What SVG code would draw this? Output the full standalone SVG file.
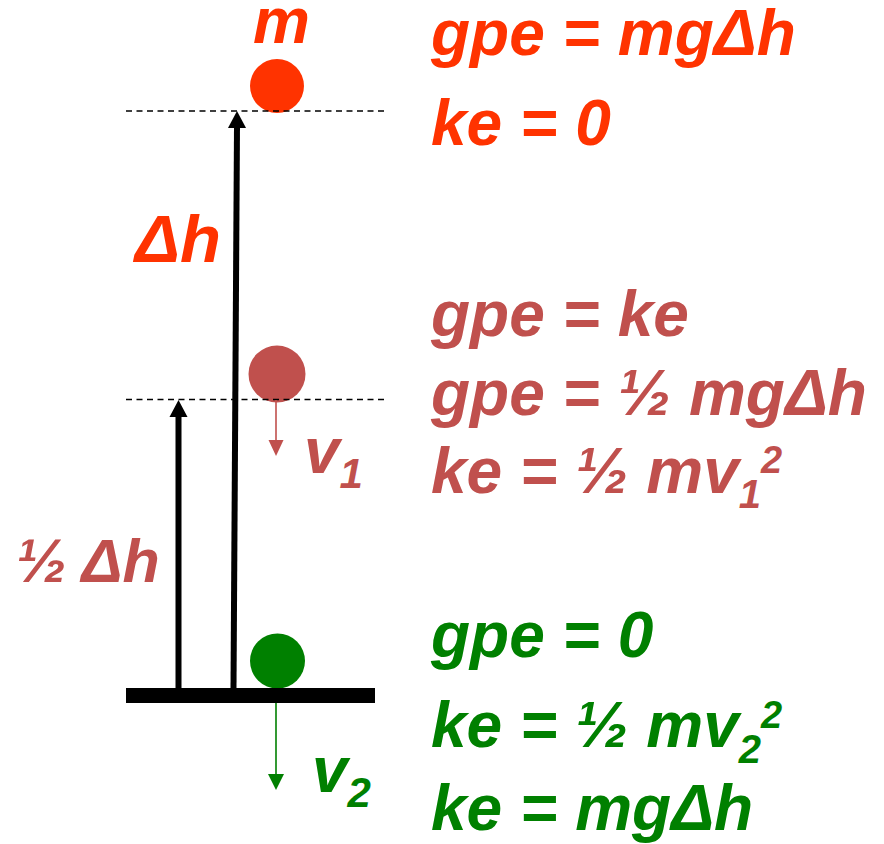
<svg xmlns="http://www.w3.org/2000/svg" width="884" height="844" viewBox="0 0 884 844">
<style>
  text { font-family: "Liberation Sans", Arial, sans-serif; font-weight: bold; font-style: italic; }
  .big { font-size: 64px; }
  .red { fill: #FF3300; }
  .rose { fill: #C0504D; }
  .green { fill: #008000; }
  .dash { stroke: #000; stroke-width: 1.4; stroke-dasharray: 6 4.5; fill: none; }
</style>
<rect width="884" height="844" fill="#fff"/>
<g id="ball-top"><circle cx="277" cy="86" r="27" class="red"/></g>
<g id="ball-mid"><circle cx="277" cy="374" r="28.5" class="rose"/></g>
<g id="ball-bottom"><circle cx="277.5" cy="661" r="27.5" class="green"/></g>
<g id="ground"><rect x="126" y="688" width="249" height="15" fill="#000"/></g>
<g id="connectors">
  <line class="dash" x1="126" y1="111" x2="387" y2="111"/>
  <line class="dash" x1="126" y1="399.5" x2="387" y2="399.5"/>
  <line x1="233.5" y1="688" x2="237" y2="126" stroke="#000" stroke-width="6"/>
  <polygon points="237,111 228,128 246,128" fill="#000"/>
  <line x1="178.5" y1="688" x2="178.5" y2="415" stroke="#000" stroke-width="6"/>
  <polygon points="178.5,400 169.5,417 187.5,417" fill="#000"/>
  <line x1="276" y1="400" x2="276" y2="442" stroke="#C0504D" stroke-width="1.6"/>
  <polygon points="276,456 268.5,440 283.5,440" fill="#C0504D"/>
  <line x1="276" y1="703" x2="276" y2="776" stroke="#008000" stroke-width="1.6"/>
  <polygon points="276,790 268,774 284,774" fill="#008000"/>
</g>
<g id="labels-left">
  <text class="big red" x="253" y="43">m</text>
  <text class="red" x="135" y="262" font-size="67">Δh</text>
  <text class="rose" x="16" y="582" font-size="61">½ Δh</text>
  <text class="big rose" x="304" y="473">v<tspan font-size="42" dy="15">1</tspan></text>
  <text class="big green" x="312" y="792">v<tspan font-size="42" dy="15">2</tspan></text>
</g>
<g id="eq-top">
  <text class="big red" x="431" y="55">gpe = mgΔh</text>
  <text class="big red" x="431" y="145">ke = 0</text>
</g>
<g id="eq-mid">
  <text class="big rose" x="431" y="336">gpe = ke</text>
  <text class="big rose" x="431" y="415">gpe = ½ mgΔh</text>
  <text class="big rose" x="431" y="493">ke = ½ mv<tspan font-size="40" dy="15">1</tspan><tspan font-size="38" dy="-35">2</tspan></text>
</g>
<g id="eq-bottom">
  <text class="big green" x="431" y="657">gpe = 0</text>
  <text class="big green" x="431" y="747">ke = ½ mv<tspan font-size="40" dy="16">2</tspan><tspan font-size="38" dy="-35">2</tspan></text>
  <text class="big green" x="431" y="830">ke = mgΔh</text>
</g>
</svg>
